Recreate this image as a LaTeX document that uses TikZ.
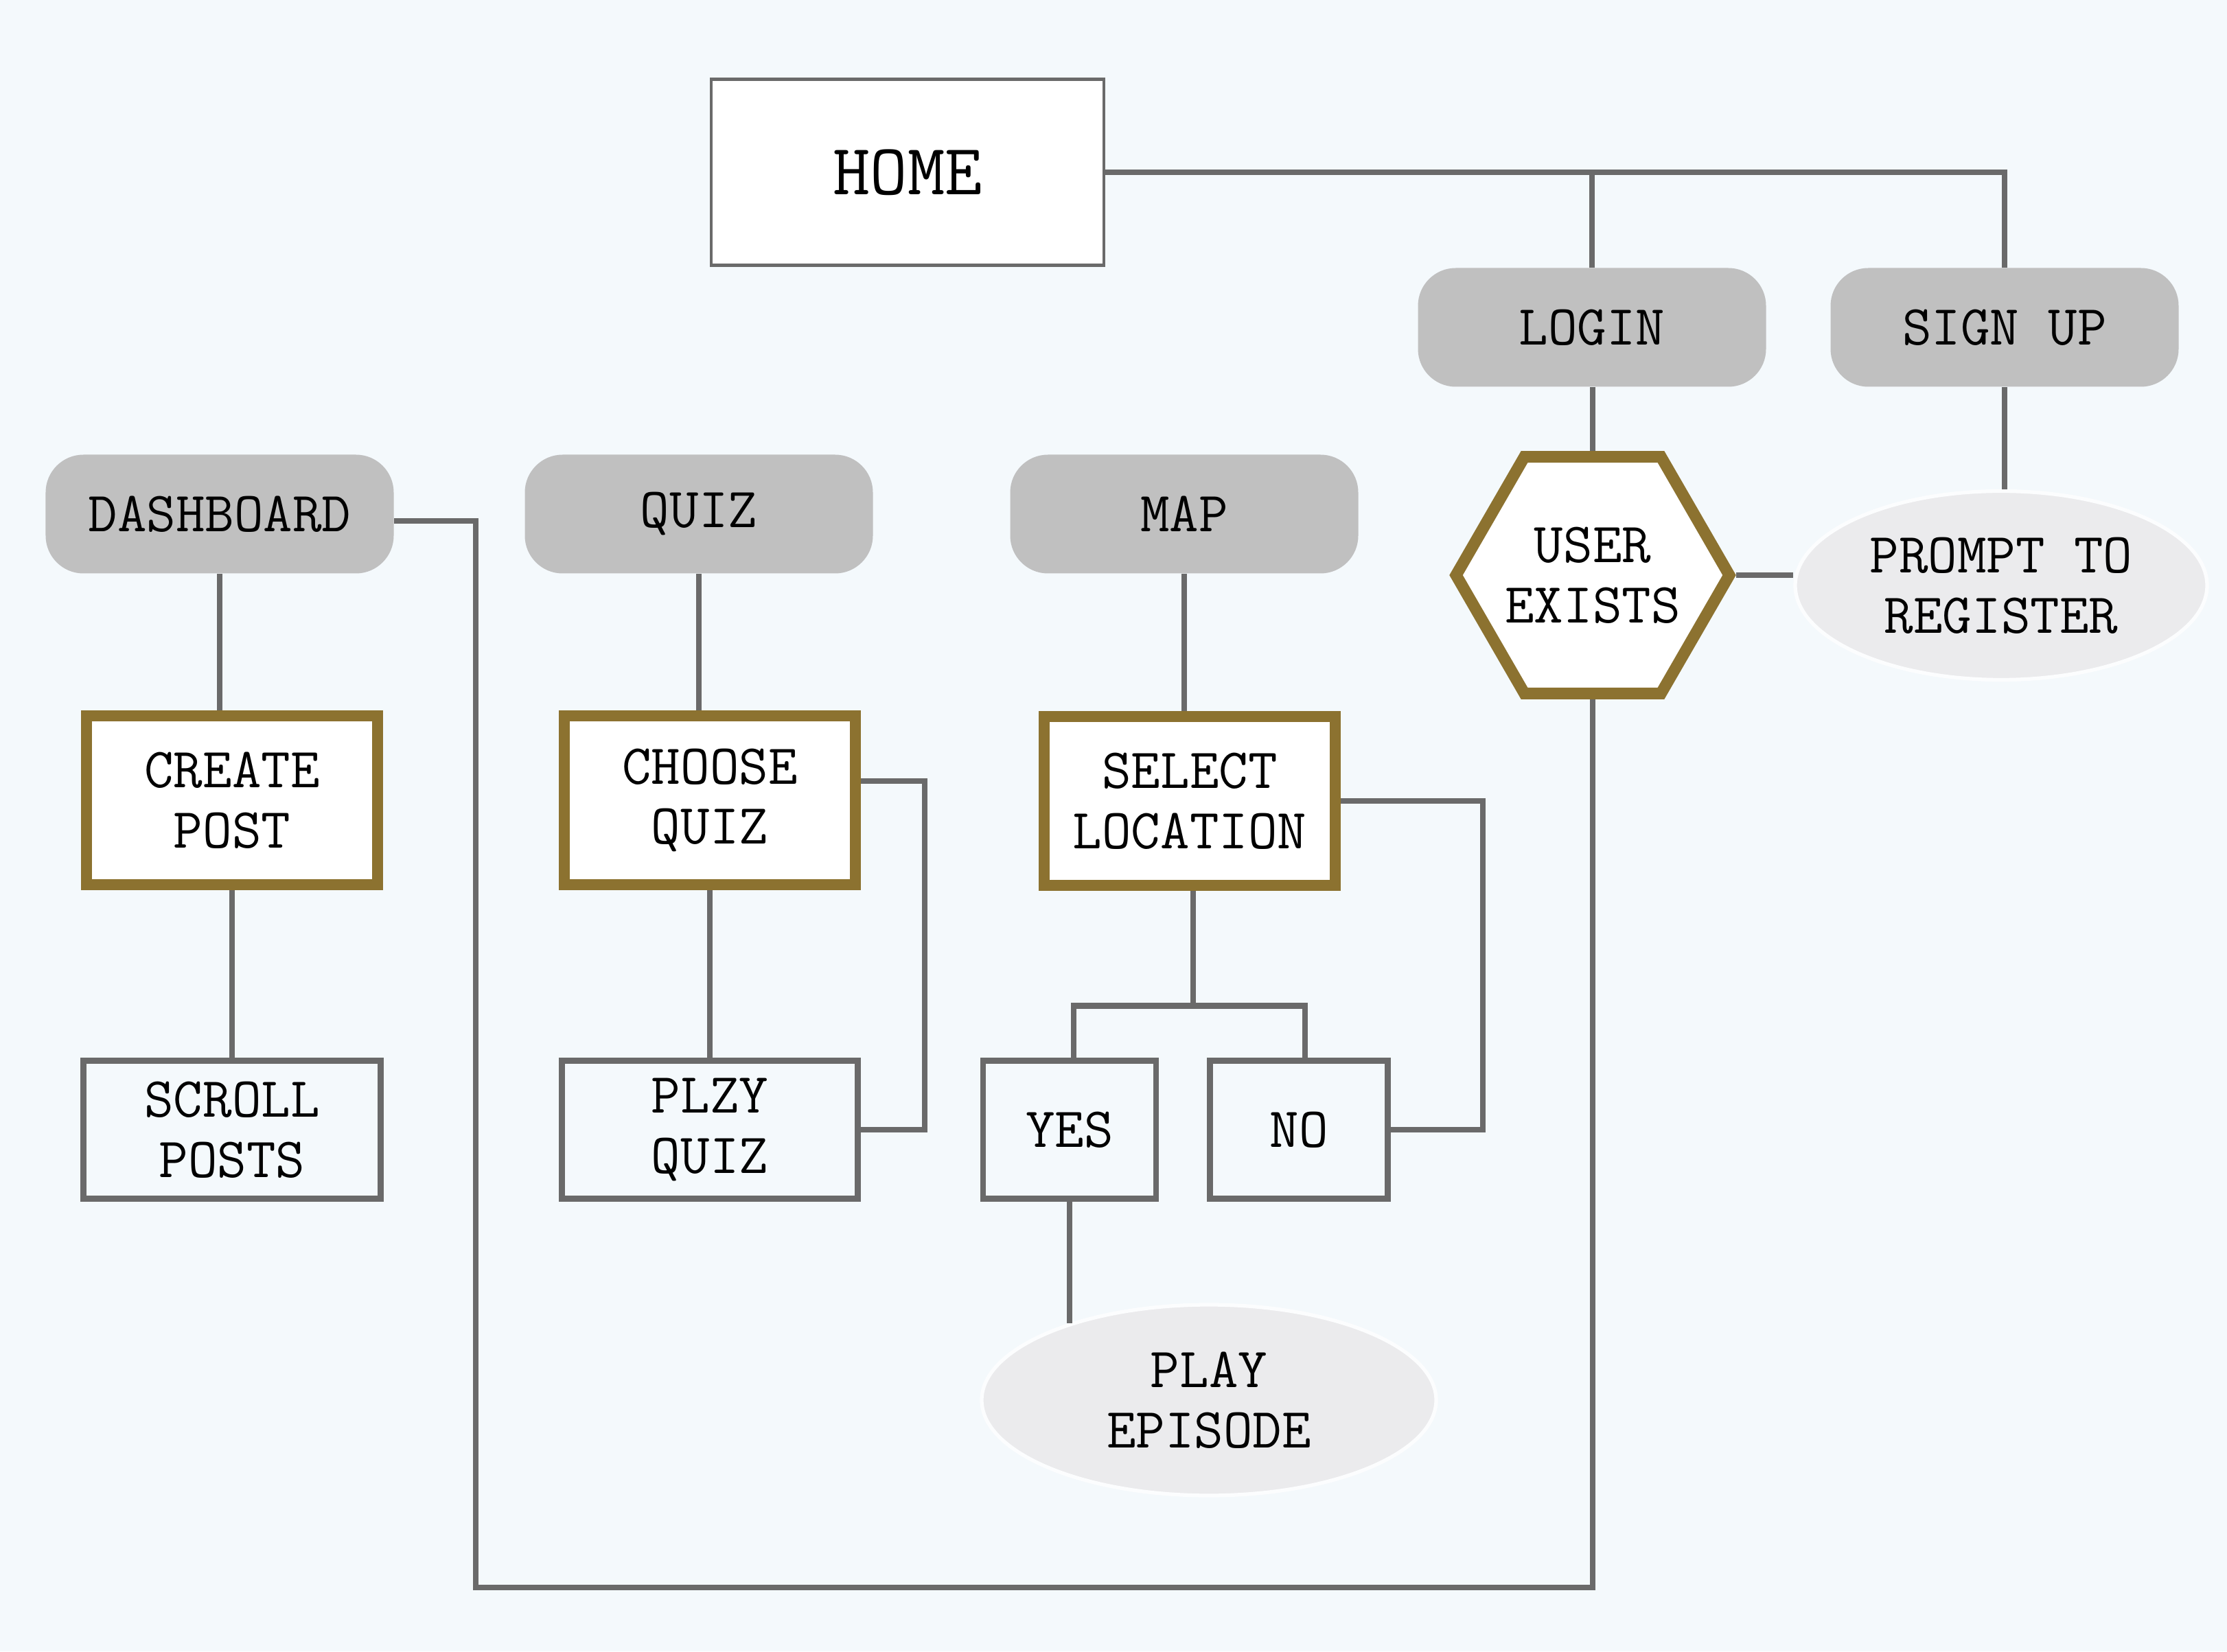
\documentclass[tikz,border=0pt]{standalone}
\usepackage{fontspec}
\usetikzlibrary{shapes.geometric}

\definecolor{bgblue}{HTML}{F4F9FC}
\definecolor{linegray}{HTML}{6A6A6A}
\definecolor{gold}{HTML}{8C7230}
\definecolor{pillgray}{HTML}{C0C0C0}
\definecolor{ovalgray}{HTML}{EBEBED}

\begin{document}
\begin{tikzpicture}[
  font=\ttfamily\fontsize{23.5}{25}\selectfont,
  conn/.style={color=linegray,line width=2.3pt},
  mainbox/.style={draw=linegray,fill=white,line width=1.2pt,minimum width=5.72cm,minimum height=2.71cm,font=\ttfamily\fontsize{30}{32}\selectfont},
  pill/.style={fill=pillgray,rounded corners=0.55cm,minimum width=5.07cm,minimum height=1.73cm},
  actbox/.style={draw=gold,fill=white,line width=4.8pt,minimum width=4.24cm,minimum height=2.46cm,align=center},
  plainbox/.style={draw=linegray,line width=2.3pt,minimum height=2.01cm,align=center},
  oval/.style={ellipse,fill=ovalgray,draw=white!70!bgblue,line width=1.5pt,align=center},
  hexa/.style={regular polygon,regular polygon sides=6,draw=gold,fill=white,line width=4.8pt,minimum size=3.98cm,inner sep=0pt,align=center}
]

% Hintergrund
\fill[bgblue] (0,0) rectangle (32.44,24.06);
\useasboundingbox (0,0) rectangle (32.44,24.06);

% Startseite und Anmeldung
\node (home) at (13.22,21.55) [mainbox] {HOME};
\node (login) at (23.19,19.29) [pill] {LOGIN};
\node (signup) at (29.20,19.29) [pill] {SIGN UP};
\node (user) at (23.20,15.68) [hexa] {\makebox[0pt]{USER}\\\makebox[0pt]{EXISTS}};
\node (prompt) at (29.15,15.53) [oval,minimum width=6.0cm,minimum height=2.75cm] {PROMPT TO\\REGISTER};

% Bereiche
\node (dash) at (3.20,16.57) [pill] {DASHBOARD};
\node (quiz) at (10.18,16.57) [pill] {QUIZ};
\node (map) at (17.25,16.57) [pill] {MAP};

% Aktionen
\node (post) at (3.38,12.40) [actbox] {CREATE\\POST};
\node (choose) at (10.34,12.40) [actbox] {CHOOSE\\QUIZ};
\node (select) at (17.33,12.39) [actbox] {SELECT\\LOCATION};

% Folgeschritte
\node (scroll) at (3.38,7.60) [plainbox,minimum width=4.33cm] {SCROLL\\POSTS};
\node (plzy) at (10.34,7.60) [plainbox,minimum width=4.31cm] {PLZY\\QUIZ};
\node (yes) at (15.58,7.60) [plainbox,minimum width=2.52cm] {YES};
\node (no) at (18.92,7.60) [plainbox,minimum width=2.59cm] {NO};
\node (epi) at (17.61,3.66) [oval,minimum width=6.62cm,minimum height=2.78cm] {PLAY\\EPISODE};

% Verbindungen oben
\draw[conn] (home.east) -| (signup.north);
\draw[conn] (home.east -| login.north) -- (login.north);
\draw[conn] (user.north |- login.south) -- (user.north);
\draw[conn] (signup.south) -- (signup.south |- prompt.north);
\draw[conn] (user.east) -- (user.east -| prompt.west);

% Rueckweg zum Dashboard
\coordinate (loopL) at (6.93,0.93);
\draw[conn] (user.south) |- (loopL) |- ([yshift=-1mm]dash.east);

% Spalten
\draw[conn] (dash.south) -- (dash.south |- post.north);
\draw[conn] (post.south) -- (scroll.north);
\draw[conn] (quiz.south) -- (quiz.south |- choose.north);
\draw[conn] (choose.south) -- (plzy.north);
\draw[conn] ([yshift=2.8mm]choose.east) -| ([xshift=0.93cm]plzy.east) -- (plzy.east);
\draw[conn] (map.south) -- (map.south |- select.north);

% Verzweigung
\draw[conn] ([xshift=0.5mm]select.south) -- ++(0,-1.68);
\draw[conn] ([xshift=0.6mm]yes.north) -- ++(0,0.76) -| ([xshift=0.9mm]no.north);
\draw[conn] (select.east) -| ([xshift=1.34cm]no.east) -- (no.east);
\draw[conn] (yes.south) -- (yes.south |- epi.151);

\end{tikzpicture}
\end{document}
